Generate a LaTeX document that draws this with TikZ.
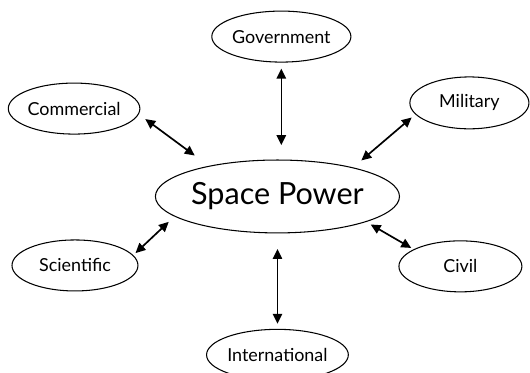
\documentclass[tikz,border=0pt]{standalone}
\usepackage{fontspec}
\setmainfont{Lato}
\usepackage{tikz}
\usetikzlibrary{positioning, shapes.geometric, arrows.meta}
\tikzset{
    bubble/.style={
        draw, ellipse,
        minimum width = 4.27cm,
        minimum height = 1.7cm,
        inner sep = 0pt,
        line width = 1pt,
        font = \fontsize{17}{20}\selectfont
    },
    link/.style = {{Triangle[length=3.3mm,width=3.1mm]}-{Triangle[length=3.3mm,width=3.1mm]}, line width=1.6pt}
}

\begin{document}
\begin{tikzpicture}

                        \useasboundingbox (-9.25,-5.88) rectangle (8.42,6.55);

                        % Space Power
                        \node[bubble,
                            minimum width = 7.17cm,
                            minimum height = 2.43cm,
                            font = \fontsize{29}{33}\selectfont
                        ] (power) at (0,0) {Space Power};

                        % Around it
                        \node[bubble, above = 3.23 of power, xshift=0.13cm] (gov) {Government};
                        \node[bubble, below = 3.18 of power] (intl) {International};
                        \node[bubble] (comm) at (-6.78,2.93) {Commercial};
                        \node[bubble, minimum width = 3.97cm, minimum height = 1.73cm] (mil) at (6.4,3.12) {Military};
                        \node[bubble, minimum width = 4.2cm] (sci) at (-6.75,-2.3) {Scientific};
                        \node[bubble, minimum width = 4.1cm] (civil) at (6.1,-2.33) {Civil};

                        % Lines
                        \draw[link, shorten <=0.2cm, shorten >=0.48cm] (gov.south) -- (gov.south |- power.north);
                        \draw[link, shorten <=0.52cm, shorten >=0.17cm] (power.south) -- (intl.north);
                        \draw[link, shorten <=0.27cm, shorten >=0.58cm] (comm.-5) -- (power.156);
                        \draw[link, shorten <=0.36cm, shorten >=0.16cm] (power.21) -- (mil.-168);
                        \draw[link, shorten <=0.1cm, shorten >=0.26cm] (sci.10) -- (power.-169);
                        \draw[link, shorten <=0.17cm, shorten >=0.09cm] (power.-16) -- (civil.160);

                    \end{tikzpicture}
\end{document}
